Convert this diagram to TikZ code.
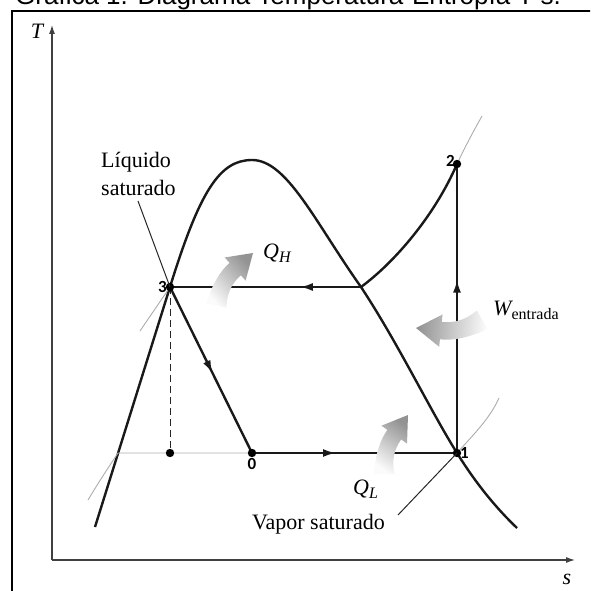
\documentclass[tikz,border=0pt]{standalone}
\usepackage{fontspec}
\setmainfont{Liberation Serif}
\newfontfamily\ptfont{Carlito}
\newfontfamily\capfont{Liberation Sans}
\usetikzlibrary{arrows.meta,decorations.markings}
\newcommand\lowsub[1]{\raisebox{-0.45ex}{\fontsize{16}{16}\selectfont #1}}
\tikzset{
  cyc/.style={line width=2.4pt,black!90},
  iso/.style={gray!65,line width=0.9pt},
  axis/.style={black!75,line width=1.1pt,-{Latex[length=9pt,width=6pt]}},
  lbl/.style={font=\fontsize{22}{28}\selectfont,inner sep=0pt},
  ptlbl/.style={font=\ptfont\bfseries\fontsize{17}{17}\selectfont,inner sep=1pt},
  midarrow/.style={postaction={decorate},decoration={markings,
      mark=at position #1 with {\arrow{Latex[length=13pt,width=8pt]}}}},
  heat/.pic={\shade[x=1pt,y=1pt,top color=gray!85,bottom color=gray!3,shading angle=#1]
    (0,0) -- (-20,13) -- (-20,7) .. controls (-35,7) and (-48,0) .. (-57,-5)
    -- (-47,-19) .. controls (-38,-10) and (-30,-7) .. (-20,-7) -- (-20,-13) -- cycle;}
}
\begin{document}
\begin{tikzpicture}[x=1pt,y=-1pt]
\useasboundingbox (0,0) rectangle (590,591);
\clip (0,0) rectangle (590,591);
% caption, cut at the top edge
\node[anchor=base west,font=\capfont\fontsize{26}{26}\selectfont,inner sep=0pt] (title) at (15,5) {Gráfica 1. Diagrama Temperatura-Entropía T-s.};
\draw[line width=1.8pt] (12,600) -- (12,11) -- (600,11);
% axes
\coordinate (O) at (52,560);
\coordinate (Ttop) at (52,25);
\coordinate (Send) at (575,560);
\draw[axis] (O) -- (Ttop);
\draw[axis] (O) -- (Send);
\node[lbl] (Tl) at (37,31) {\itshape T};
\node[lbl] (sl) at (567,579) {\itshape s};
% states
\coordinate (p0) at (252,453);
\coordinate (p1) at (457,453);
\coordinate (p2) at (457,164);
\coordinate (p3) at (170,287);
\coordinate (g3) at (361,287);
\coordinate (f1) at (118,453);
\coordinate (d4) at (170,453);
% saturation dome
\draw[cyc] (95,527) -- (p3) .. controls (200,190) and (220,160) .. (252,160)
  .. controls (287,160) and (315,222) .. (g3) .. controls (398,343) and (430,410) .. (p1)
  .. controls (475,482) and (495,507) .. (517,528);
% isobars
\draw[iso] (140,331) -- (p3);
\draw[cyc] (g3) .. controls (395,262) and (435,215) .. (p2);
\draw[iso] (p2) .. controls (465,147) and (473,132) .. (482,116);
\draw[iso] (88,500) .. controls (100,480) and (110,465) .. (f1) -- (p0);
\draw[iso] (p1) .. controls (475,433) and (490,418) .. (499,398);
% cycle
\draw[cyc,midarrow=0.32] (g3) -- (p3);
\draw[cyc,midarrow=0.52] (p3) -- (p0);
\draw[cyc,midarrow=0.41] (p0) -- (p1);
\draw[cyc,midarrow=0.6] (p1) -- (p2);
\draw[black!85,line width=1pt,dash pattern=on 7pt off 4pt] (p3) -- (d4);
\foreach \p in {p0,p1,p2,p3,d4} \fill (\p) circle (4.2pt);
\node[ptlbl,left=2pt] (n3) at (p3) {3};
\node[ptlbl,anchor=south east,xshift=-1pt,yshift=-4pt] (n2) at (p2) {2};
\node[ptlbl,right=2pt] (n1) at (p1) {1};
\node[ptlbl,below=4pt] (n0) at (p0) {0};
% heat and work
\pic[rotate=42,scale=1.2] (qh) at (253,253) {heat=-48};
\pic[rotate=55,scale=1.2] (ql) at (408,415) {heat=-35};
\pic[rotate=174,scale=1.25] (win) at (416,328) {heat=84};
\node[lbl,anchor=base west] (QH) at (263,258) {\itshape Q\lowsub{H}};
\node[lbl,anchor=base west] (QL) at (353,494) {\itshape Q\lowsub{L}};
\node[lbl,anchor=base west] (W) at (493,315) {\itshape W\lowsub{\upshape entrada}};
% saturation labels
\node[lbl,anchor=base west,align=left] (liq) at (101,195) {Líquido\\saturado};
\coordinate (lq) at (138,201);
\draw[black!85,line width=1pt] (lq) -- (p3);
\node[lbl,anchor=base west] (vap) at (252,529) {Vapor saturado};
\coordinate (vp) at (398,515);
\draw[black!85,line width=1pt] (vp) -- (p1);
\end{tikzpicture}
\end{document}
